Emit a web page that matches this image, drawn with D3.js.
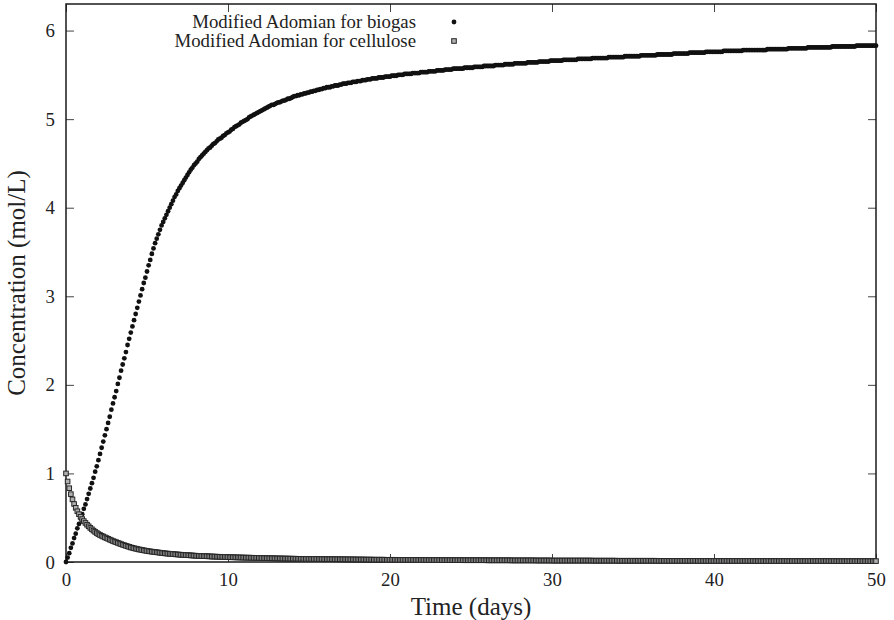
<!DOCTYPE html>
<html>
<head>
<meta charset="utf-8">
<script src="https://cdnjs.cloudflare.com/ajax/libs/d3/7.8.5/d3.min.js"></script>
<style>
  body { margin: 0; background: #fff; }
  text { font-family: "Liberation Serif", "Times New Roman", serif; }
</style>
</head>
<body>
<div id="chart"></div>
<script>
// time grid of the solver output (days)
const timeStep = 0.1;
// biogas concentration, one row per day (t = d.0 ... d.9), last value at t = 50
const biogas = [
  0.00,0.05,0.10,0.16,0.21,0.27,0.32,0.38,0.43,0.49,
  0.54,0.60,0.65,0.71,0.77,0.83,0.89,0.95,1.02,1.08,
  1.15,1.22,1.29,1.36,1.43,1.50,1.57,1.64,1.72,1.79,
  1.86,1.93,2.01,2.08,2.16,2.23,2.30,2.37,2.45,2.52,
  2.59,2.66,2.73,2.80,2.87,2.94,3.01,3.08,3.15,3.21,
  3.28,3.35,3.41,3.48,3.54,3.60,3.65,3.70,3.75,3.80,
  3.84,3.88,3.92,3.96,4.00,4.04,4.08,4.12,4.15,4.19,
  4.22,4.25,4.28,4.31,4.34,4.37,4.40,4.43,4.45,4.48,
  4.50,4.52,4.55,4.57,4.59,4.61,4.63,4.65,4.67,4.68,
  4.70,4.72,4.73,4.75,4.77,4.78,4.79,4.81,4.82,4.84,
  4.85,4.86,4.88,4.89,4.91,4.92,4.93,4.94,4.96,4.97,
  4.98,4.99,5.00,5.02,5.03,5.04,5.05,5.06,5.07,5.08,
  5.09,5.10,5.11,5.12,5.13,5.14,5.15,5.16,5.16,5.17,
  5.18,5.19,5.19,5.20,5.21,5.21,5.22,5.23,5.23,5.24,
  5.25,5.26,5.26,5.27,5.27,5.28,5.28,5.29,5.29,5.30,
  5.30,5.31,5.31,5.32,5.32,5.33,5.33,5.34,5.34,5.35,
  5.35,5.36,5.36,5.36,5.37,5.37,5.38,5.38,5.38,5.39,
  5.39,5.40,5.40,5.40,5.41,5.41,5.41,5.42,5.42,5.42,
  5.43,5.43,5.43,5.44,5.44,5.44,5.45,5.45,5.45,5.46,
  5.46,5.46,5.46,5.47,5.47,5.47,5.47,5.48,5.48,5.48,
  5.48,5.49,5.49,5.49,5.49,5.50,5.50,5.50,5.50,5.51,
  5.51,5.51,5.51,5.51,5.52,5.52,5.52,5.52,5.52,5.53,
  5.53,5.53,5.53,5.53,5.54,5.54,5.54,5.54,5.54,5.55,
  5.55,5.55,5.55,5.55,5.56,5.56,5.56,5.56,5.56,5.57,
  5.57,5.57,5.57,5.57,5.57,5.57,5.58,5.58,5.58,5.58,
  5.58,5.58,5.59,5.59,5.59,5.59,5.59,5.59,5.60,5.60,
  5.60,5.60,5.60,5.60,5.60,5.61,5.61,5.61,5.61,5.61,
  5.61,5.62,5.62,5.62,5.62,5.62,5.62,5.63,5.63,5.63,
  5.63,5.63,5.63,5.63,5.63,5.64,5.64,5.64,5.64,5.64,
  5.64,5.64,5.65,5.65,5.65,5.65,5.65,5.65,5.65,5.66,
  5.66,5.66,5.66,5.66,5.66,5.66,5.66,5.67,5.67,5.67,
  5.67,5.67,5.67,5.67,5.67,5.67,5.68,5.68,5.68,5.68,
  5.68,5.68,5.68,5.68,5.68,5.69,5.69,5.69,5.69,5.69,
  5.69,5.69,5.69,5.69,5.69,5.70,5.70,5.70,5.70,5.70,
  5.70,5.70,5.70,5.70,5.70,5.71,5.71,5.71,5.71,5.71,
  5.71,5.71,5.71,5.71,5.71,5.72,5.72,5.72,5.72,5.72,
  5.72,5.72,5.72,5.72,5.72,5.73,5.73,5.73,5.73,5.73,
  5.73,5.73,5.73,5.73,5.73,5.74,5.74,5.74,5.74,5.74,
  5.74,5.74,5.74,5.74,5.74,5.75,5.75,5.75,5.75,5.75,
  5.75,5.75,5.75,5.75,5.75,5.76,5.76,5.76,5.76,5.76,
  5.76,5.76,5.76,5.76,5.76,5.76,5.77,5.77,5.77,5.77,
  5.77,5.77,5.77,5.77,5.77,5.77,5.77,5.77,5.78,5.78,
  5.78,5.78,5.78,5.78,5.78,5.78,5.78,5.78,5.78,5.78,
  5.78,5.78,5.78,5.79,5.79,5.79,5.79,5.79,5.79,5.79,
  5.79,5.79,5.79,5.79,5.79,5.79,5.80,5.80,5.80,5.80,
  5.80,5.80,5.80,5.80,5.80,5.80,5.80,5.80,5.81,5.81,
  5.81,5.81,5.81,5.81,5.81,5.81,5.81,5.81,5.81,5.81,
  5.81,5.81,5.81,5.82,5.82,5.82,5.82,5.82,5.82,5.82,
  5.82,5.82,5.82,5.82,5.82,5.82,5.82,5.82,5.83,5.83,
  5.83,5.83,5.83,5.83,5.83,5.83,5.83,5.83,5.83,5.83,
  5.83
];
// cellulose concentration, same grid
const cellulose = [
  1.000,0.909,0.833,0.766,0.707,0.655,0.612,0.573,0.540,0.511,
  0.485,0.462,0.441,0.421,0.403,0.385,0.369,0.354,0.340,0.327,
  0.315,0.305,0.296,0.287,0.278,0.270,0.262,0.253,0.245,0.237,
  0.230,0.223,0.216,0.209,0.202,0.195,0.189,0.183,0.177,0.171,
  0.165,0.160,0.155,0.151,0.146,0.142,0.139,0.135,0.132,0.128,
  0.125,0.122,0.119,0.117,0.114,0.112,0.110,0.107,0.105,0.102,
  0.100,0.098,0.096,0.094,0.093,0.091,0.090,0.088,0.086,0.085,
  0.083,0.082,0.081,0.079,0.078,0.077,0.076,0.075,0.073,0.072,
  0.071,0.070,0.069,0.068,0.067,0.066,0.066,0.065,0.064,0.063,
  0.062,0.061,0.061,0.060,0.059,0.059,0.058,0.057,0.057,0.056,
  0.055,0.054,0.054,0.053,0.053,0.052,0.052,0.051,0.051,0.050,
  0.050,0.049,0.049,0.049,0.048,0.048,0.047,0.047,0.047,0.046,
  0.045,0.045,0.044,0.044,0.043,0.043,0.042,0.042,0.042,0.041,
  0.041,0.040,0.040,0.040,0.039,0.039,0.039,0.038,0.038,0.038,
  0.037,0.037,0.037,0.036,0.036,0.036,0.036,0.035,0.035,0.035,
  0.035,0.034,0.034,0.034,0.034,0.034,0.033,0.033,0.033,0.033,
  0.032,0.032,0.032,0.032,0.032,0.031,0.031,0.031,0.031,0.031,
  0.030,0.030,0.030,0.030,0.030,0.029,0.029,0.029,0.029,0.029,
  0.028,0.028,0.028,0.028,0.028,0.027,0.027,0.027,0.027,0.027,
  0.026,0.026,0.026,0.026,0.026,0.026,0.026,0.025,0.025,0.025,
  0.025,0.025,0.025,0.025,0.025,0.024,0.024,0.024,0.024,0.024,
  0.024,0.024,0.024,0.024,0.024,0.023,0.023,0.023,0.023,0.023,
  0.023,0.023,0.023,0.022,0.022,0.022,0.022,0.022,0.022,0.022,
  0.022,0.021,0.021,0.021,0.021,0.021,0.021,0.021,0.021,0.021,
  0.021,0.021,0.021,0.021,0.021,0.020,0.020,0.020,0.020,0.020,
  0.020,0.020,0.020,0.020,0.020,0.020,0.020,0.020,0.020,0.020,
  0.019,0.019,0.019,0.019,0.019,0.019,0.019,0.019,0.019,0.019,
  0.019,0.019,0.019,0.019,0.019,0.018,0.018,0.018,0.018,0.018,
  0.018,0.018,0.018,0.018,0.018,0.018,0.018,0.018,0.018,0.018,
  0.017,0.017,0.017,0.017,0.017,0.017,0.017,0.017,0.017,0.017,
  0.016,0.016,0.016,0.016,0.016,0.016,0.016,0.016,0.016,0.016,
  0.016,0.016,0.016,0.016,0.016,0.016,0.016,0.016,0.016,0.016,
  0.016,0.016,0.016,0.016,0.016,0.015,0.015,0.015,0.015,0.015,
  0.015,0.015,0.015,0.015,0.015,0.015,0.015,0.015,0.015,0.015,
  0.014,0.014,0.014,0.014,0.014,0.014,0.014,0.014,0.014,0.014,
  0.014,0.014,0.014,0.014,0.014,0.014,0.014,0.014,0.014,0.014,
  0.014,0.014,0.014,0.014,0.014,0.013,0.013,0.013,0.013,0.013,
  0.013,0.013,0.013,0.013,0.013,0.013,0.013,0.013,0.013,0.013,
  0.013,0.013,0.013,0.013,0.013,0.013,0.013,0.013,0.013,0.013,
  0.012,0.012,0.012,0.012,0.012,0.012,0.012,0.012,0.012,0.012,
  0.012,0.012,0.012,0.012,0.012,0.012,0.012,0.012,0.012,0.012,
  0.012,0.012,0.012,0.012,0.012,0.012,0.012,0.012,0.012,0.012,
  0.012,0.012,0.012,0.012,0.012,0.011,0.011,0.011,0.011,0.011,
  0.011,0.011,0.011,0.011,0.011,0.011,0.011,0.011,0.011,0.011,
  0.011,0.011,0.011,0.011,0.011,0.011,0.011,0.011,0.011,0.011,
  0.011,0.011,0.011,0.011,0.011,0.011,0.011,0.011,0.011,0.011,
  0.011,0.011,0.011,0.011,0.011,0.011,0.011,0.011,0.011,0.011,
  0.011,0.011,0.011,0.011,0.011,0.010,0.010,0.010,0.010,0.010,
  0.010,0.010,0.010,0.010,0.010,0.010,0.010,0.010,0.010,0.010,
  0.010,0.010,0.010,0.010,0.010,0.010,0.010,0.010,0.010,0.010,
  0.010
];
const xTicks = [0, 10, 20, 30, 40, 50];
const yTicks = [0, 1, 2, 3, 4, 5, 6];
const seriesNames = ["Modified Adomian for biogas", "Modified Adomian for cellulose"];

const svgWidth = 894, svgHeight = 620;
const plot = {left: 66, right: 876, top: 4, bottom: 562};
const fontSize = 18.8;
const titleSize = 25;
const tickLen = 8;
const dotR = 2.4;
const squareSide = 4.6;

let x = d3.scaleLinear().domain([0, 50]).range([plot.left, plot.right]);
let y = d3.scaleLinear().domain([0, 6.3]).range([plot.bottom, plot.top]);

function to_points(values) {
    return values.map((v, i) => ({t: i * timeStep, v: v}));
}

function create_chart() {
    let svg = d3.select("#chart")
        .append("svg")
        .attr("width", svgWidth)
        .attr("height", svgHeight);
    add_axes(svg);
    add_dots(svg, to_points(biogas));
    add_squares(svg, to_points(cellulose));
    add_legend(svg);
    add_titles(svg);
}

function style_axis(g, labels) {
    g.select(".domain").remove();
    g.selectAll(".tick line").attr("stroke", "#444").attr("stroke-width", 1);
    g.selectAll(".tick text")
        .attr("fill", "#222")
        .style("font-size", labels ? fontSize + "px" : "0px")
        .style("font-family", "'Liberation Serif', serif");
}

function add_axes(svg) {
    let fmt = d3.format("d");
    svg.append("g")
        .attr("transform", `translate(0, ${plot.bottom})`)
        .call(d3.axisBottom(x).tickValues(xTicks).tickFormat(fmt).tickSize(-tickLen).tickPadding(11))
        .call(g => style_axis(g, true));
    svg.append("g")
        .attr("transform", `translate(0, ${plot.top})`)
        .call(d3.axisTop(x).tickValues(xTicks).tickSize(-tickLen).tickFormat(""))
        .call(g => style_axis(g, false));
    svg.append("g")
        .attr("transform", `translate(${plot.left}, 0)`)
        .call(d3.axisLeft(y).tickValues(yTicks).tickFormat(fmt).tickSize(-tickLen).tickPadding(11))
        .call(g => style_axis(g, true));
    svg.append("g")
        .attr("transform", `translate(${plot.right}, 0)`)
        .call(d3.axisRight(y).tickValues(yTicks).tickSize(-tickLen).tickFormat(""))
        .call(g => style_axis(g, false));
    // frame
    svg.append("rect")
        .attr("x", plot.left)
        .attr("y", plot.top)
        .attr("width", plot.right - plot.left)
        .attr("height", plot.bottom - plot.top)
        .attr("fill", "none")
        .attr("stroke", "#1a1a1a")
        .attr("stroke-width", 1.5);
}

function add_dots(svg, data) {
    svg.append("g")
        .selectAll("circle")
        .data(data)
        .enter()
        .append("circle")
        .attr("cx", d => x(d.t))
        .attr("cy", d => y(d.v))
        .attr("r", dotR)
        .attr("fill", "#111");
}

function add_squares(svg, data) {
    let s = squareSide;
    svg.append("g")
        .selectAll("rect")
        .data(data)
        .enter()
        .append("rect")
        .attr("x", d => x(d.t) - s / 2)
        .attr("y", d => y(d.v) - s / 2)
        .attr("width", s)
        .attr("height", s)
        .attr("fill", "#b0b0b0")
        .attr("stroke", "#262626")
        .attr("stroke-width", 1);
}

function add_legend(svg) {
    let rows = [22, 41];
    let textRight = 416, markX = 454;
    svg.append("g")
        .selectAll("text")
        .data(seriesNames)
        .enter()
        .append("text")
        .attr("x", textRight)
        .attr("y", (d, i) => rows[i])
        .attr("dy", "0.33em")
        .attr("text-anchor", "end")
        .attr("fill", "#222")
        .style("font-size", fontSize + "px")
        .text(d => d);
    svg.append("circle")
        .attr("cx", markX)
        .attr("cy", rows[0])
        .attr("r", dotR)
        .attr("fill", "#111");
    svg.append("rect")
        .attr("x", markX - squareSide / 2)
        .attr("y", rows[1] - squareSide / 2)
        .attr("width", squareSide)
        .attr("height", squareSide)
        .attr("fill", "#b0b0b0")
        .attr("stroke", "#262626")
        .attr("stroke-width", 1);
}

function add_titles(svg) {
    svg.append("text")
        .attr("x", (plot.left + plot.right) / 2)
        .attr("y", 615)
        .attr("text-anchor", "middle")
        .attr("fill", "#222")
        .style("font-size", titleSize + "px")
        .text("Time (days)");
    svg.append("text")
        .attr("transform", `translate(25, ${(plot.top + plot.bottom) / 2}) rotate(-90)`)
        .attr("text-anchor", "middle")
        .attr("fill", "#222")
        .style("font-size", titleSize + "px")
        .text("Concentration (mol/L)");
}

create_chart();
</script>
</body>
</html>
